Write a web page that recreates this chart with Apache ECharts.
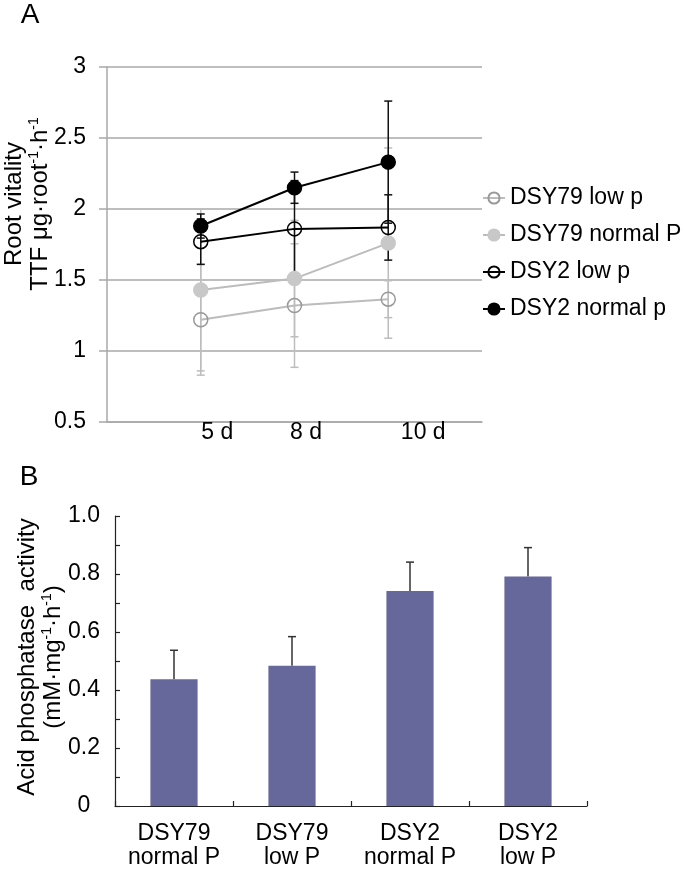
<!DOCTYPE html>
<html>
<head>
<meta charset="utf-8">
<script src="https://cdn.jsdelivr.net/npm/echarts@6/dist/echarts.min.js"></script>
<style>
html,body{margin:0;padding:0;background:#fff;}
#c{width:685px;height:872px;}
</style>
</head>
<body>
<div id="c"></div>
<script>
// ---- Panel A data ----
var daysX = [1, 2, 3];
var dayLabels = ['5 d', '8 d', '10 d'];
var seriesNamesA = ['DSY79 low p', 'DSY79 normal P', 'DSY2 low p', 'DSY2 normal p'];
var dsy79Low = [1.22, 1.32, 1.365];
var dsy79LowErr = [0.39, 0.435, 0.13];
var dsy79Normal = [1.43, 1.51, 1.76];
var dsy79NormalErr = [0.57, 0.41, 0.67];
var dsy2Low = [1.77, 1.86, 1.87];
var dsy2LowErr = [0.16, 0.34, 0.23];
var dsy2Normal = [1.88, 2.15, 2.33];
var dsy2NormalErr = [0.085, 0.11, 0.43];

// ---- Panel B data ----
var groupsB = ['DSY79\nnormal P', 'DSY79\nlow P', 'DSY2\nnormal P', 'DSY2\nlow P'];
var acidP = [0.437, 0.484, 0.741, 0.791];
var acidPErr = [0.1, 0.1, 0.1, 0.1];

var FONT = 'Liberation Sans, Arial, sans-serif';

function pts(vals) { return vals.map(function (v, i) { return [daysX[i], v]; }); }

function errSeries(vals, errs, color, both, xi, yi) {
  return {
    type: 'custom',
    xAxisIndex: xi, yAxisIndex: yi,
    silent: true,
    data: vals.map(function (v, i) { return [xi === 0 ? daysX[i] : i, v, errs[i]]; }),
    renderItem: function (params, api) {
      var x = api.value(0), y = api.value(1), e = api.value(2);
      var top = api.coord([x, y + e]);
      var bot = api.coord([x, both ? y - e : y]);
      var hw = 4;
      var children = [
        { type: 'line', shape: { x1: top[0], y1: top[1], x2: bot[0], y2: bot[1] }, style: { stroke: color, lineWidth: 1.5 } },
        { type: 'line', shape: { x1: top[0] - hw, y1: top[1], x2: top[0] + hw, y2: top[1] }, style: { stroke: color, lineWidth: 1.5 } }
      ];
      if (both) {
        children.push({ type: 'line', shape: { x1: bot[0] - hw, y1: bot[1], x2: bot[0] + hw, y2: bot[1] }, style: { stroke: color, lineWidth: 1.5 } });
      }
      return { type: 'group', children: children };
    }
  };
}

function lineSeries(name, vals, lineColor, fill, border) {
  return {
    name: name,
    type: 'line',
    xAxisIndex: 0, yAxisIndex: 0,
    data: pts(vals),
    symbol: 'circle',
    symbolSize: 14,
    showSymbol: true,
    lineStyle: { color: lineColor, width: 2 },
    itemStyle: { color: fill, borderColor: border, borderWidth: 1.5 },
    emphasis: { disabled: true },
    z: 3
  };
}

var GRAY_LINE = '#bcbcbc';
var GRAY_ERR = '#bdbdbd';

var xRich = {
  l0: { padding: [0, 0, 0, 33], fontSize: 23, fontFamily: FONT, color: '#000' },
  l1: { padding: [0, 0, 0, 23], fontSize: 23, fontFamily: FONT, color: '#000' },
  l2: { padding: [0, 0, 0, 70], fontSize: 23, fontFamily: FONT, color: '#000' }
};

var titleRich = {
  a: { fontSize: 24, fontFamily: FONT, color: '#000', lineHeight: 26 },
  s: { fontSize: 14, fontFamily: FONT, color: '#000', lineHeight: 16, verticalAlign: 'top' }
};

var option = {
  backgroundColor: '#fff',
  animation: false,
  grid: [
    { left: 107, top: 67, width: 375, height: 355 },
    { left: 115, top: 516, width: 472, height: 290 }
  ],
  xAxis: [
    {
      type: 'value', gridIndex: 0, min: 0, max: 4, interval: 1,
      axisLine: { show: true, lineStyle: { color: '#a8a8a8', width: 1.5 } },
      axisTick: { show: false },
      splitLine: { show: false },
      axisLabel: {
        margin: -1,
        formatter: function (v) {
          var i = Math.round(v) - 1;
          if (i < 0 || i >= dayLabels.length) return '';
          return '{l' + i + '|' + dayLabels[i] + '}';
        },
        rich: xRich
      }
    },
    {
      type: 'category', gridIndex: 1, data: groupsB,
      axisLine: { lineStyle: { color: '#222', width: 1.2 } },
      axisTick: { show: true, inside: true, length: 5, lineStyle: { color: '#222', width: 1.2 } },
      axisLabel: { margin: 16, fontSize: 23, lineHeight: 24, fontFamily: FONT, color: '#000', interval: 0 }
    }
  ],
  yAxis: [
    {
      type: 'value', gridIndex: 0, min: 0.5, max: 3, interval: 0.5,
      axisLine: { show: true, lineStyle: { color: '#a8a8a8', width: 1.5 } },
      axisTick: { show: true, length: 8, lineStyle: { color: '#a8a8a8', width: 1.5 } },
      splitLine: { show: true, lineStyle: { color: '#a8a8a8', width: 1.5 } },
      axisLabel: { margin: 21, fontSize: 23, fontFamily: FONT, color: '#000' }
    },
    {
      type: 'value', gridIndex: 1, min: 0, max: 1, interval: 0.2,
      axisLine: { show: true, lineStyle: { color: '#222', width: 1.2 } },
      axisTick: { show: true, inside: true, length: 5, lineStyle: { color: '#222', width: 1.2 } },
      minorTick: { show: true, splitNumber: 2, length: 5, lineStyle: { color: '#222', width: 1.2 } },
      splitLine: { show: false },
      axisLabel: {
        margin: 31, align: 'center', fontSize: 23, fontFamily: FONT, color: '#000',
        formatter: function (v) { return v === 0 ? '0' : v.toFixed(1); }
      }
    }
  ],
  legend: {
    orient: 'vertical',
    left: 477, top: 181,
    itemWidth: 22, itemHeight: 14, itemGap: 13,
    data: seriesNamesA,
    selectedMode: false,
    textStyle: { fontSize: 23, lineHeight: 24, fontFamily: FONT, color: '#000' }
  },
  graphic: [
    { type: 'text', x: 30, y: 15, style: { text: 'A', fontSize: 28, fontFamily: FONT, fill: '#000', align: 'center', verticalAlign: 'middle' } },
    { type: 'text', x: 29, y: 477, style: { text: 'B', fontSize: 28, fontFamily: FONT, fill: '#000', align: 'center', verticalAlign: 'middle' } },
    {
      type: 'text', x: 27, y: 204, rotation: Math.PI / 2,
      style: {
        text: '{a|Root vitality}\n{a|TTF μg·root}{s|-1}{a|·h}{s|-1}',
        rich: titleRich, align: 'center', verticalAlign: 'middle'
      }
    },
    {
      type: 'text', x: 40, y: 657, rotation: Math.PI / 2,
      style: {
        text: '{a|Acid phosphatase  activity}\n{a|(mM·mg}{s|-1}{a|·h}{s|-1}{a|)}',
        rich: titleRich, align: 'center', verticalAlign: 'middle'
      }
    }
  ],
  series: [
    errSeries(dsy79Low, dsy79LowErr, GRAY_ERR, true, 0, 0),
    errSeries(dsy79Normal, dsy79NormalErr, GRAY_ERR, true, 0, 0),
    lineSeries('DSY79 low p', dsy79Low, GRAY_LINE, 'rgba(255,255,255,0)', '#999999'),
    lineSeries('DSY79 normal P', dsy79Normal, GRAY_LINE, '#c8c8c8', '#c8c8c8'),
    errSeries(dsy2Low, dsy2LowErr, '#111', true, 0, 0),
    errSeries(dsy2Normal, dsy2NormalErr, '#111', true, 0, 0),
    lineSeries('DSY2 low p', dsy2Low, '#000', 'rgba(255,255,255,0)', '#000'),
    lineSeries('DSY2 normal p', dsy2Normal, '#000', '#000', '#000'),
    {
      type: 'bar', xAxisIndex: 1, yAxisIndex: 1,
      data: acidP, barWidth: '40%',
      itemStyle: { color: '#66679b' },
      emphasis: { disabled: true }
    },
    errSeries(acidP, acidPErr, '#333', false, 1, 1)
  ]
};

var chart = echarts.init(document.getElementById('c'), null, { renderer: 'canvas' });
chart.setOption(option);
</script>
</body>
</html>
